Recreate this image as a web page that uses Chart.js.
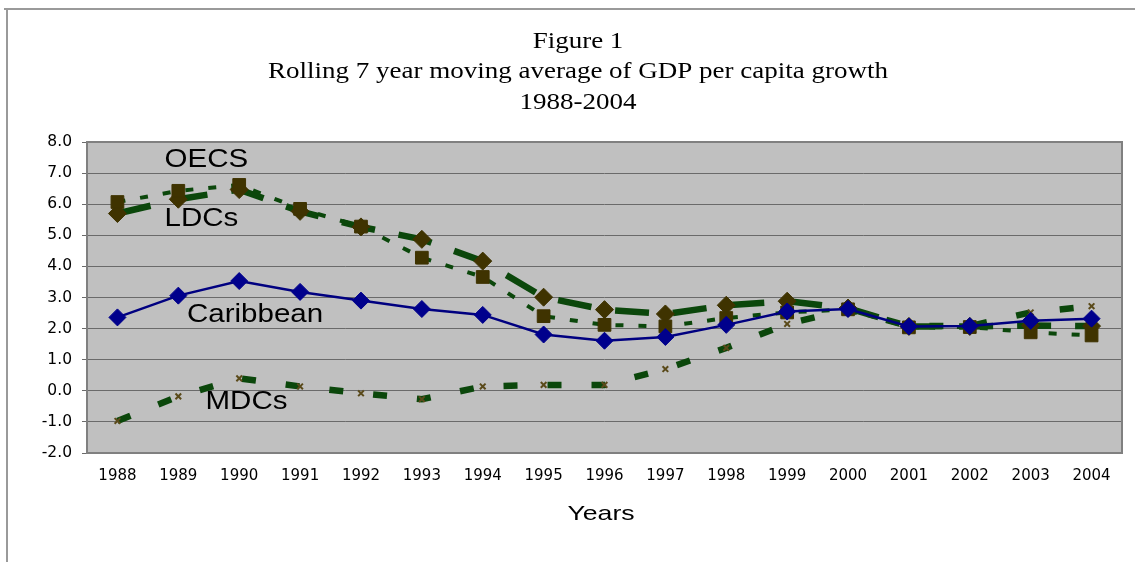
<!DOCTYPE html>
<html>
<head>
<meta charset="utf-8">
<script src="https://cdn.jsdelivr.net/npm/chart.js@4/dist/chart.umd.min.js"></script>
<style>
  html, body { margin: 0; padding: 0; background: #ffffff; }
  #wrap { width: 1135px; height: 562px; position: relative; }
</style>
</head>
<body>
<div id="wrap"><canvas id="c" width="1135" height="562"></canvas></div>
<script>
// Years on the horizontal axis
const years = ['1988','1989','1990','1991','1992','1993','1994','1995','1996','1997','1998','1999','2000','2001','2002','2003','2004'];

// Rolling 7-year average GDP per capita growth (%)
const caribbean = [2.36, 3.06, 3.53, 3.18, 2.90, 2.63, 2.44, 1.81, 1.61, 1.73, 2.12, 2.55, 2.63, 2.07, 2.08, 2.25, 2.32];
const oecs      = [6.07, 6.43, 6.62, 5.85, 5.28, 4.28, 3.66, 2.40, 2.12, 2.07, 2.34, 2.52, 2.62, 2.04, 2.05, 1.88, 1.78];
const ldcs      = [5.70, 6.16, 6.47, 5.77, 5.27, 4.87, 4.17, 3.01, 2.61, 2.47, 2.75, 2.88, 2.66, 2.07, 2.07, 2.10, 2.08];
const mdcs      = [-0.97, -0.18, 0.40, 0.14, -0.08, -0.27, 0.14, 0.19, 0.19, 0.70, 1.38, 2.15, 2.62, 2.08, 2.08, 2.52, 2.72];

// Series names written inside the plot, anchored at (category index, value)
const seriesNames  = ['OECS', 'LDCs', 'Caribbean', 'MDCs'];
const nameAnchorX  = [1.46, 1.38, 2.26, 2.12];
const nameAnchorY  = [7.43, 5.52, 2.43, -0.37];

const titleLines = ['Figure 1', 'Rolling 7 year moving average of GDP per capita growth', '1988-2004'];
const xAxisTitle = 'Years';

const GREEN = '#0b470b';
const OLIVE = '#3f3300';
const SANS = '"Liberation Sans", Arial, sans-serif';
const SERIF = '"Liberation Serif", "Times New Roman", serif';

// Text drawn with a slight horizontal stretch (wide lettering)
function wideText(ctx, text, cx, cy, font, sx, baseline) {
  ctx.save();
  ctx.font = font;
  ctx.fillStyle = '#000000';
  ctx.textAlign = 'center';
  ctx.textBaseline = baseline;
  ctx.translate(cx, cy);
  ctx.scale(sx, 1);
  ctx.fillText(text, 0, 0);
  ctx.restore();
}

// Grey plot background, plot border, outer frame lines and the headings
const framePlugin = {
  id: 'frame',
  beforeDraw(chart) {
    const { ctx, chartArea: a } = chart;
    ctx.save();
    ctx.fillStyle = '#ffffff';
    ctx.fillRect(0, 0, chart.width, chart.height);
    ctx.strokeStyle = '#9a9a9a';
    ctx.lineWidth = 2;
    ctx.beginPath();
    ctx.moveTo(4, 9); ctx.lineTo(chart.width, 9);
    ctx.moveTo(7, 9); ctx.lineTo(7, chart.height);
    ctx.stroke();
    ctx.fillStyle = '#c0c0c0';
    ctx.fillRect(a.left, a.top, a.right - a.left, a.bottom - a.top);
    ctx.restore();

    // three-line heading above the plot
    const baselines = [47.5, 78, 109];
    titleLines.forEach((t, i) => wideText(ctx, t, 578, baselines[i], '22.5px ' + SERIF, 1.2, 'alphabetic'));

    // horizontal axis title
    wideText(ctx, xAxisTitle, 601, 520, '21px ' + SANS, 1.27, 'alphabetic');
  },
  beforeDatasetsDraw(chart) {
    const { ctx, chartArea: a } = chart;
    ctx.save();
    ctx.strokeStyle = '#808080';
    ctx.lineWidth = 2;
    ctx.strokeRect(a.left, a.top, a.right - a.left, a.bottom - a.top);
    ctx.restore();
  }
};

// Series names placed next to their lines
const namesPlugin = {
  id: 'seriesNames',
  afterDatasetsDraw(chart) {
    const { ctx, scales: { x, y } } = chart;
    seriesNames.forEach((name, i) => {
      wideText(ctx, name, x.getPixelForValue(nameAnchorX[i]), y.getPixelForValue(nameAnchorY[i]),
        '25px ' + SANS, 1.18, 'middle');
    });
  }
};

new Chart(document.getElementById('c'), {
  type: 'line',
  data: {
    labels: years,
    datasets: [
      {
        label: 'Caribbean',
        data: caribbean,
        borderColor: '#000080',
        borderWidth: 2.5,
        pointStyle: 'rectRot',
        pointRadius: 8.5,
        pointBackgroundColor: '#00008c',
        pointBorderColor: '#00008c',
        pointBorderWidth: 1,
        tension: 0,
        order: 1
      },
      {
        label: 'OECS',
        data: oecs,
        borderColor: GREEN,
        borderWidth: 4,
        borderDash: [8, 15],
        pointStyle: 'rect',
        pointRadius: 9,
        pointBackgroundColor: OLIVE,
        pointBorderColor: OLIVE,
        pointBorderWidth: 1,
        tension: 0,
        order: 2
      },
      {
        label: 'LDCs',
        data: ldcs,
        borderColor: GREEN,
        borderWidth: 6.5,
        borderDash: [34, 24],
        pointStyle: 'rectRot',
        pointRadius: 9,
        pointBackgroundColor: OLIVE,
        pointBorderColor: OLIVE,
        pointBorderWidth: 1,
        tension: 0,
        order: 3
      },
      {
        label: 'MDCs',
        data: mdcs,
        borderColor: GREEN,
        borderWidth: 6.5,
        borderDash: [14, 30],
        pointStyle: 'crossRot',
        pointRadius: 4,
        pointBackgroundColor: '#5a4a1a',
        pointBorderColor: '#5a4a1a',
        pointBorderWidth: 2,
        tension: 0,
        order: 4
      }
    ]
  },
  options: {
    responsive: false,
    animation: false,
    devicePixelRatio: 1,
    layout: { padding: { left: 0, right: 13, top: 142, bottom: 0 } },
    plugins: {
      legend: { display: false },
      tooltip: { enabled: false },
      title: { display: false }
    },
    scales: {
      x: {
        offset: true,
        grid: { display: false, drawTicks: false },
        border: { display: false },
        ticks: {
          color: '#000000',
          font: { family: '"DejaVu Sans", sans-serif', size: 15 },
          padding: 14,
          maxRotation: 0,
          autoSkip: false
        },
        afterFit(scale) { scale.height = 109; }
      },
      y: {
        min: -2,
        max: 8,
        grid: { color: '#6a6a6a', lineWidth: 1, tickLength: 5, drawTicks: true },
        border: { display: false },
        ticks: {
          stepSize: 1,
          color: '#000000',
          padding: 10,
          font: { family: '"DejaVu Sans", sans-serif', size: 15.5 },
          callback: v => Number(v).toFixed(1)
        },
        afterFit(scale) { scale.width = 87; }
      }
    }
  },
  plugins: [framePlugin, namesPlugin]
});
</script>
</body>
</html>
